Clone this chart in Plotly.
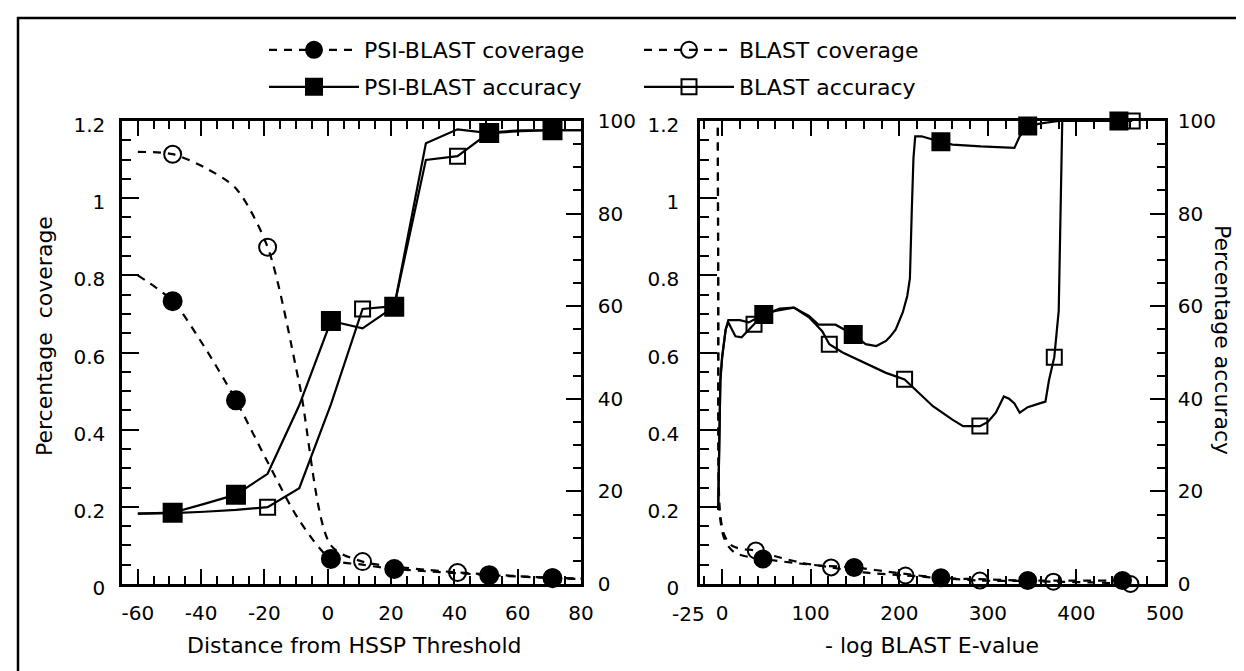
import plotly.graph_objects as go

W, H = 1244, 671

# ---------------- data: left panel (distance from HSSP threshold) ----------------
hssp_x = [-60, -49, -39, -29, -19, -9, 1, 11, 21, 31, 41, 51, 61, 71, 81]
psi_cov_left = [0.80, 0.733, 0.615, 0.476, 0.316, 0.165, 0.065, 0.05, 0.039, 0.033, 0.028, 0.023, 0.019, 0.015, 0.013]
blast_cov_left = [1.12, 1.114, 1.08, 1.025, 0.873, 0.52, 0.10, 0.058, 0.045, 0.037, 0.030, 0.025, 0.020, 0.016, 0.014]
psi_acc_left = [15.2, 15.4, 17.3, 19.3, 23.8, 38.6, 56.8, 55.2, 59.9, 95.2, 98.2, 97.4, 97.8, 98.0, 98.0]
blast_acc_left = [15.2, 15.3, 15.6, 16.0, 16.6, 20.7, 38.8, 59.4, 60.0, 91.6, 92.4, 97.5, 98.0, 98.0, 98.0]
psi_mark_left = [1, 3, 6, 8, 11, 13]
blast_mark_left = [1, 4, 7, 10, 13]

# ---------------- data: right panel (-log BLAST E-value) ----------------
psi_acc_r_x = [-4.5, -3.5, -3, -2, 0, 2, 4, 7, 20, 30, 47, 60, 81, 98, 109, 128, 148, 162, 174, 185,
               190, 196, 204, 209, 212, 214, 216, 218, 225, 247, 260, 292, 330, 336, 345, 360, 380, 448]
psi_acc_r = [16, 25, 35, 44, 49, 52, 55, 57, 57, 56.5, 58.2, 59, 59.7, 57.9, 56, 56, 53.9, 51.8, 51.4, 52.5,
             53.5, 55, 58.7, 62.2, 66, 80, 92, 96.7, 96.7, 95.5, 94.9, 94.5, 94.2, 96.7, 98.9, 99.5, 100, 100]
psi_acc_r_mark = [10, 16, 29, 34, 37]

blast_acc_r_x = [-4.5, -3.5, -3, -2, 0, 2, 4, 7, 15, 22, 30, 36, 50, 65, 81, 98, 113, 121, 136, 158,
                 185, 206, 238, 260, 272, 291, 300, 309, 318, 324, 330, 336, 345, 355, 365, 369, 375, 380, 382, 384, 463]
blast_acc_r = [16, 25, 35, 44, 49, 52, 55, 56.5, 53.5, 53.3, 55, 56.1, 58.3, 59.5, 59.7, 57.6, 54.6, 51.8, 50, 48,
               45.6, 44.2, 38.4, 35.5, 34.1, 34.1, 35, 37, 40.5, 40, 39, 37, 38.2, 38.8, 39.4, 44, 49, 59, 82, 100, 100]
blast_acc_r_mark = [11, 17, 21, 25, 36, 40]

psi_cov_r_x = [-5, -4.5, -4, -3, -1, 2, 8, 15, 30, 46, 80, 110, 149, 200, 247, 300, 345, 400, 452]
psi_cov_r = [1.3, 0.8, 0.3, 0.19, 0.15, 0.12, 0.095, 0.08, 0.07, 0.065, 0.055, 0.048, 0.043, 0.028, 0.016, 0.012, 0.009, 0.009, 0.009]
psi_cov_r_mark = [9, 12, 14, 16, 18]

blast_cov_r_x = [-5, -4.5, -4, -3, -1, 2, 8, 15, 25, 38, 60, 90, 123, 160, 207, 250, 291, 330, 374, 420, 461]
blast_cov_r = [1.3, 0.8, 0.3, 0.2, 0.16, 0.13, 0.105, 0.095, 0.09, 0.087, 0.072, 0.055, 0.043, 0.03, 0.022, 0.015, 0.009, 0.008, 0.006, 0.004, 0.0]
blast_cov_r_mark = [9, 12, 14, 16, 18, 20]

left_x_ticks = [-60, -40, -20, 0, 20, 40, 60, 80]
left_x_text = ["-60", "-40", "-20", "0", "20", "40", "60", "80"]
right_x_ticks = [-25, 0, 100, 200, 300, 400, 500]
right_x_text = ["", "0", "100", "200", "300", "400", "500"]
right_x_first_label = "-25"   # drawn a little left of its tick, as in the reference

legend_names = ["PSI-BLAST coverage", "BLAST coverage", "PSI-BLAST accuracy", "BLAST accuracy"]

# ---------------- styling ----------------
FONT = "DejaVu Sans"
DASH = "8px,7px"
LW = 2.2
S_FC, S_OC, S_FS, S_OS = 18, 17, 18, 15

def px_x(p):
    return p / W

def px_y(p):
    return 1 - p / H

fig = go.Figure()

def line(x, y, dash, xa, ya):
    fig.add_trace(go.Scatter(x=x, y=y, mode="lines", xaxis=xa, yaxis=ya, showlegend=False,
                             line=dict(color="black", width=LW, dash=dash, shape="spline" if dash else "linear",
                                       smoothing=0.8), hoverinfo="skip"))

def marks(x, y, idx, symbol, size, xa, ya):
    fig.add_trace(go.Scatter(x=[x[i] for i in idx], y=[y[i] for i in idx], mode="markers",
                             xaxis=xa, yaxis=ya, showlegend=False, cliponaxis=False,
                             marker=dict(symbol=symbol, size=size, color="black",
                                         line=dict(color="black", width=2))))

# left panel
line(hssp_x, blast_cov_left, DASH, "x", "y")
line(hssp_x, psi_cov_left, DASH, "x", "y")
line(hssp_x, blast_acc_left, None, "x", "y2")
line(hssp_x, psi_acc_left, None, "x", "y2")
marks(hssp_x, blast_cov_left, blast_mark_left, "circle-open", S_OC, "x", "y")
marks(hssp_x, blast_acc_left, blast_mark_left, "square-open", S_OS, "x", "y2")
marks(hssp_x, psi_cov_left, psi_mark_left, "circle", S_FC, "x", "y")
marks(hssp_x, psi_acc_left, psi_mark_left, "square", S_FS, "x", "y2")

# right panel
line(blast_cov_r_x, blast_cov_r, DASH, "x2", "y3")
line(psi_cov_r_x, psi_cov_r, DASH, "x2", "y3")
line(blast_acc_r_x, blast_acc_r, None, "x2", "y4")
line(psi_acc_r_x, psi_acc_r, None, "x2", "y4")
marks(blast_cov_r_x, blast_cov_r, blast_cov_r_mark, "circle-open", S_OC - 1, "x2", "y3")
marks(blast_acc_r_x, blast_acc_r, blast_acc_r_mark, "square-open", S_OS, "x2", "y4")
marks(psi_cov_r_x, psi_cov_r, psi_cov_r_mark, "circle", S_FC - 1, "x2", "y3")
marks(psi_acc_r_x, psi_acc_r, psi_acc_r_mark, "square", S_FS - 1, "x2", "y4")

# legend entries (4 separate legends for exact placement)
leg_specs = [
    (legend_names[0], "circle", S_FC, DASH, "legend"),
    (legend_names[1], "circle-open", S_OC, DASH, "legend2"),
    (legend_names[2], "square", S_FS, None, "legend3"),
    (legend_names[3], "square-open", S_OS, None, "legend4"),
]
for name, sym, size, dash, lg in leg_specs:
    fig.add_trace(go.Scatter(x=[None], y=[None], mode="lines+markers", name=name, legend=lg,
                             xaxis="x", yaxis="y",
                             line=dict(color="black", width=LW, dash=dash),
                             marker=dict(symbol=sym, size=size, color="black", line=dict(color="black", width=2))))

def leg(xp, yp):
    return dict(x=px_x(xp), y=px_y(yp), xanchor="left", yanchor="middle", bgcolor="rgba(0,0,0,0)",
                borderwidth=0, font=dict(family=FONT, size=22, color="black"), itemwidth=90,
                itemclick=False, itemdoubleclick=False)

axis_common = dict(showline=True, linewidth=2.5, linecolor="black", ticks="inside", tickwidth=2,
                   tickcolor="black", showgrid=False, zeroline=False, automargin=False, tickangle=0,
                   tickfont=dict(family=FONT, size=20, color="black"))

ydom = [px_y(576), px_y(113)]

fig.update_layout(
    width=W, height=H, margin=dict(l=0, r=0, t=0, b=0),
    paper_bgcolor="white", plot_bgcolor="white",
    font=dict(family=FONT, size=20, color="black"),
    legend=leg(256, 42), legend2=leg(631, 42), legend3=leg(256, 79), legend4=leg(631, 79),
    xaxis=dict(axis_common, domain=[px_x(114), px_x(573)], range=[-65, 80], tickvals=left_x_ticks,
               ticktext=left_x_text, ticklen=15, mirror="ticks", anchor="y", ticklabelstandoff=9,
               minor=dict(dtick=5, tick0=0, ticklen=8, tickwidth=2, tickcolor="black", ticks="inside", showgrid=False)),
    yaxis=dict(axis_common, domain=ydom, range=[0, 1.2], dtick=0.2, tick0=0, ticklen=17, anchor="x",
               ticklabelstandoff=10, ticklabelshift=4,
               minor=dict(dtick=0.05, tick0=0, ticklen=9, tickwidth=2, tickcolor="black", ticks="inside", showgrid=False)),
    yaxis2=dict(axis_common, overlaying="y", side="right", range=[0, 100], dtick=20, tick0=0, ticklen=15,
                anchor="x", ticklabelstandoff=10,
                minor=dict(dtick=5, tick0=0, ticklen=8, tickwidth=2, tickcolor="black", ticks="inside", showgrid=False)),
    xaxis2=dict(axis_common, domain=[px_x(692), px_x(1157)], range=[-25, 500], tickvals=right_x_ticks,
                ticktext=right_x_text, ticklen=15, mirror="ticks", anchor="y3", ticklabelstandoff=9,
                minor=dict(dtick=20, tick0=0, ticklen=8, tickwidth=2, tickcolor="black", ticks="inside", showgrid=False)),
    yaxis3=dict(axis_common, domain=ydom, range=[0, 1.2], dtick=0.2, tick0=0, ticklen=17, anchor="x2",
                ticklabelstandoff=14, ticklabelshift=4,
                minor=dict(dtick=0.05, tick0=0, ticklen=9, tickwidth=2, tickcolor="black", ticks="inside", showgrid=False)),
    yaxis4=dict(axis_common, overlaying="y3", side="right", range=[0, 100], dtick=20, tick0=0, ticklen=15,
                anchor="x2", ticklabelstandoff=6,
                minor=dict(dtick=5, tick0=0, ticklen=8, tickwidth=2, tickcolor="black", ticks="inside", showgrid=False)),
    shapes=[dict(type="rect", xref="paper", yref="paper", x0=px_x(10), x1=px_x(1242), y0=px_y(669), y1=px_y(10),
                 line=dict(color="black", width=2.5), fillcolor="rgba(0,0,0,0)", layer="below")],
    annotations=[
        dict(text=right_x_first_label, xref="x2", yref="paper", x=right_x_ticks[0], y=px_y(576),
             xshift=-12, yshift=-16, xanchor="center", yanchor="top", showarrow=False,
             font=dict(family=FONT, size=20, color="black")),
        dict(text="Percentage\u00a0 coverage", xref="paper", yref="paper", x=px_x(37), y=px_y(328), textangle=-90,
             showarrow=False, font=dict(family=FONT, size=22, color="black"), xanchor="center", yanchor="middle"),
        dict(text="Percentage accuracy", xref="paper", yref="paper", x=px_x(1215), y=px_y(332), textangle=90,
             showarrow=False, font=dict(family=FONT, size=22, color="black"), xanchor="center", yanchor="middle"),
        dict(text="Distance from HSSP Threshold", xref="paper", yref="paper", x=px_x(346), y=px_y(637),
             showarrow=False, font=dict(family=FONT, size=22, color="black"), xanchor="center", yanchor="middle"),
        dict(text="- log BLAST E-value", xref="paper", yref="paper", x=px_x(924), y=px_y(637),
             showarrow=False, font=dict(family=FONT, size=22, color="black"), xanchor="center", yanchor="middle"),
    ],
)

fig.write_html("out.html")
